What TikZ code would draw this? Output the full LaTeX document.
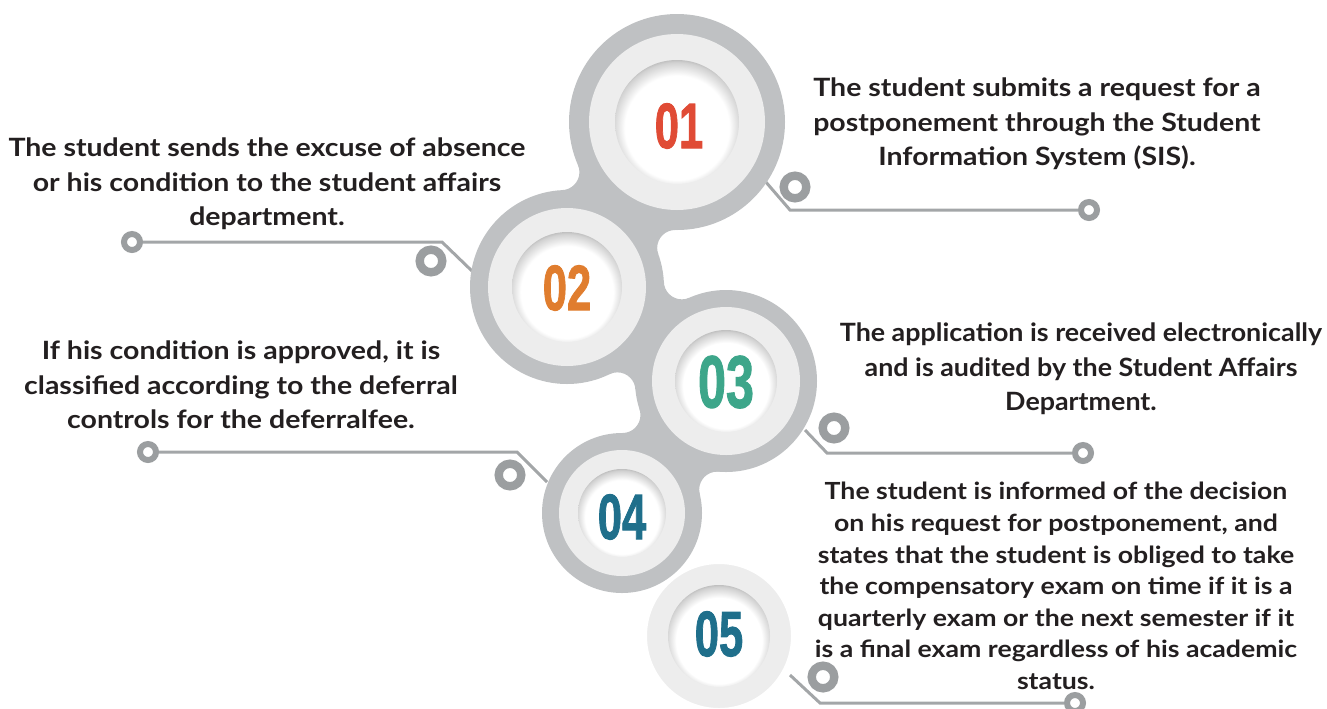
\documentclass[tikz,border=0pt]{standalone}
\usepackage{fontspec}
\usepackage{graphicx}
\setmainfont{Lato}[FakeStretch=1.13]
\newfontfamily\narrowlato{Lato}[FakeStretch=1.065]
\newfontface\numfont{Liberation Sans Bold}[FakeBold=1.6]
\usetikzlibrary{calc}
\definecolor{ringgray}{HTML}{BFC1C3}
\definecolor{ringlight}{HTML}{EDEDED}
\definecolor{linegray}{HTML}{A3A6A8}
\definecolor{knobgray}{HTML}{9B9EA0}
\definecolor{txt}{HTML}{231F20}
\definecolor{cA}{HTML}{E04B35}
\definecolor{cB}{HTML}{E07D2E}
\definecolor{cC}{HTML}{3DA68A}
\definecolor{cD}{HTML}{1F6F8B}
\pgfdeclareradialshading{dent}{\pgfpoint{0bp}{-4bp}}{color(0bp)=(white); color(21bp)=(white); color(26bp)=(black!18); color(29bp)=(black!40); color(50bp)=(black!40)}
\newcommand\dg[1]{\scalebox{0.68}[1]{#1}}
\newcommand\neckfill[7]{%
 \pgfmathsetmacro\ndx{(#4-#1)/100}%
 \pgfmathsetmacro\ndy{(#5-#2)/100}%
 \pgfmathsetmacro\ndd{sqrt(\ndx*\ndx+\ndy*\ndy)}%
 \pgfmathsetmacro\nda{(#3+#7)/100}%
 \pgfmathsetmacro\ndb{(#6+#7)/100}%
 \pgfmathsetmacro\nal{acos((\nda*\nda+\ndd*\ndd-\ndb*\ndb)/(2*\nda*\ndd))}%
 \pgfmathsetmacro\nth{atan2(\ndy,\ndx)}%
 \pgfmathsetmacro\pxa{#1+100*\nda*cos(\nth+\nal)}%
 \pgfmathsetmacro\pya{#2+100*\nda*sin(\nth+\nal)}%
 \pgfmathsetmacro\pxb{#1+100*\nda*cos(\nth-\nal)}%
 \pgfmathsetmacro\pyb{#2+100*\nda*sin(\nth-\nal)}%
 \begin{scope}[even odd rule]
  \clip (-50,-50) rectangle (1400,800)
     (\pxa,\pya) circle[radius=#7] (\pxb,\pyb) circle[radius=#7];
  \fill[ringgray] (#1,#2) -- (\pxa,\pya) -- (#4,#5) -- (\pxb,\pyb) -- cycle;
 \end{scope}}
\tikzset{
 conn/.style={draw=linegray, line width=1.5pt},
 endring/.style={circle, draw=knobgray, line width=3pt, inner sep=0pt, minimum size=8pt},
 knob/.style={circle, draw=knobgray, line width=4.2pt, inner sep=0pt, minimum size=11.3pt},
 desc/.style={align=center, text=txt, font=\bfseries\fontsize{12.6}{17.2}\selectfont, inner sep=0pt},
 num/.style={font=\numfont\fontsize{32}{32}\selectfont, inner sep=0pt},
}
\begin{document}
\begin{tikzpicture}[x=0.5pt,y=-0.5pt]
\useasboundingbox (0,0) rectangle (1327,708);
% centres
\coordinate (c1) at (677,122);
\coordinate (c2) at (567,287);
\coordinate (c3) at (726,381);
\coordinate (c4) at (622,513);
\coordinate (c5) at (719,636);
% connector geometry
\coordinate (k1) at (765,181); \coordinate (b1) at (790,210);
\coordinate (k2) at (472,271); \coordinate (b2) at (442,242);
\coordinate (k3) at (805,430); \coordinate (b3) at (827,453);
\coordinate (k4) at (547,482); \coordinate (b4) at (517,452);
\coordinate (k5) at (790,675); \coordinate (b5) at (820,703);
\node[endring] (e1) at (1089,210) {};
\node[endring] (e2) at (132,242) {};
\node[endring] (e3) at (1083,453) {};
\node[endring] (e4) at (148,452) {};
\node[endring] (e5) at (1075,703) {};
\node[knob] (s1) at (795,187) {};
\node[knob] (s2) at (431,261) {};
\node[knob] (s3) at (834,428) {};
\node[knob] (s4) at (510,475) {};
\node[knob] (s5) at (823,677) {};
\draw[conn] (k1) -- (b1) -- (e1);
\draw[conn] (k2) -- (b2) -- (e2);
\draw[conn] (k3) -- (b3) -- (e3);
\draw[conn] (k4) -- (b4) -- (e4);
\draw[conn] (k5) -- (b5) -- (e5);
% chain
\neckfill{677}{122}{108}{567}{287}{97}{18}
\neckfill{567}{287}{97}{726}{381}{91}{18}
\neckfill{726}{381}{91}{622}{513}{80}{18}
\fill[ringgray] (c1) circle[radius=108];
\fill[ringgray] (c2) circle[radius=97];
\fill[ringgray] (c3) circle[radius=91];
\fill[ringgray] (c4) circle[radius=80];
\fill[ringlight] (c1) circle[radius=88];
\fill[ringlight] (c2) circle[radius=79];
\fill[ringlight] (c3) circle[radius=74];
\fill[ringlight] (c4) circle[radius=63];
\draw[white, line width=2pt, fill=ringlight] (c5) circle[radius=74];
\shade[shading=dent] (c1) circle[radius=62];
\shade[shading=dent] (c2) circle[radius=55];
\shade[shading=dent] (c3) circle[radius=51];
\shade[shading=dent] (c4) circle[radius=44];
\shade[shading=dent] (c5) circle[radius=51];
% numbers
\node[num, text=cA] (n1) at ($(c1)+(2,4)$) {\dg{01}};
\node[num, text=cB] (n2) at ($(c2)+(0,1)$) {\dg{02}};
\node[num, text=cC, font=\numfont\fontsize{37}{37}\selectfont] (n3) at ($(c3)+(0,1)$) {\dg{03}};
\node[num, text=cD] (n4) at ($(c4)+(0,4)$) {\dg{04}};
\node[num, text=cD] (n5) at ($(c5)+(0,-2)$) {\dg{05}};
% texts
\node[desc] (t1) at (1037,124) {The student submits a request for a\\postponement through the Student\\Information System (SIS).};
\node[desc] (t2) at (267,184) {The student sends the excuse of absence\\or his condition to the student affairs\\department.};
\node[desc, font=\narrowlato\bfseries\fontsize{12.6}{17.2}\selectfont] (t3) at (1081,369) {The application is received electronically\\and is audited by the Student Affairs\\Department.};
\node[desc] (t4) at (241,385) {If his condition is approved, it is\\classified according to the deferral\\controls for the deferralfee.};
\node[desc, font=\bfseries\fontsize{11.8}{15.8}\selectfont] (t5) at (1056,586) {The student is informed of the decision\\on his request for postponement, and\\states that the student is obliged to take\\the compensatory exam on time if it is a\\quarterly exam or the next semester if it\\is a final exam regardless of his academic\\status.};
\end{tikzpicture}
\end{document}
